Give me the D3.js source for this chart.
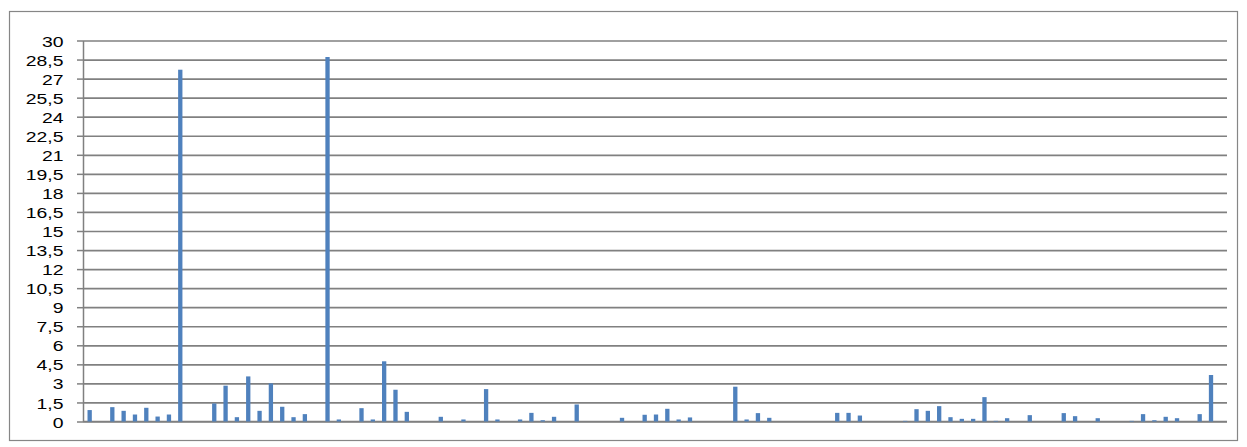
<!DOCTYPE html>
<html>
<head>
<meta charset="utf-8">
<script src="https://cdn.jsdelivr.net/npm/d3@7"></script>
<style>
  body { margin: 0; background: #fff; }
  svg { display: block; }
  .axis path, .axis line { stroke: #808080; }
  .grid line { stroke: #808080; stroke-width: 1.7; }
  .grid path { display: none; }
</style>
</head>
<body>
<div id="chart"></div>
<script>
// values for each category slot (101 slots)
const categories = d3.range(101);
const values = [
  0.9, 0, 1.13, 0.84, 0.55, 1.08, 0.39, 0.55, 27.7, 0,
  0, 1.42, 2.82, 0.34, 3.55, 0.84, 3.0, 1.16, 0.34, 0.58,
  0, 28.7, 0.16, 0, 1.05, 0.16, 4.74, 2.5, 0.76, 0,
  0, 0.37, 0, 0.16, 0, 2.55, 0.16, 0, 0.16, 0.68,
  0.1, 0.37, 0, 1.34, 0, 0, 0, 0.29, 0, 0.53,
  0.55, 1.0, 0.16, 0.32, 0, 0, 0, 2.74, 0.16, 0.66,
  0.29, 0, 0, 0, 0, 0, 0.68, 0.68, 0.47, 0,
  0, 0, 0.05, 0.97, 0.84, 1.21, 0.34, 0.21, 0.21, 1.92,
  0.05, 0.26, 0, 0.5, 0, 0, 0.66, 0.42, 0, 0.26,
  0, 0, 0.05, 0.58, 0.1, 0.37, 0.26, 0, 0.58, 3.66,
  0
];
const yTicks = [0, 1.5, 3, 4.5, 6, 7.5, 9, 10.5, 12, 13.5, 15, 16.5, 18, 19.5, 21, 22.5, 24, 25.5, 27, 28.5, 30];

const W = 1247, H = 447;
const plot = {left: 83, right: 1227, top: 40.5, bottom: 421.5};

const svg = d3.select('#chart').append('svg')
  .attr('width', W)
  .attr('height', H);

// outer frame
svg.append('rect')
  .attr('x', 9.5).attr('y', 11.5)
  .attr('width', 1228).attr('height', 429)
  .attr('fill', 'none')
  .attr('stroke', '#868686')
  .attr('stroke-width', 1.2);

const x = d3.scaleBand()
  .domain(categories)
  .range([plot.left + 1, plot.right + 1])
  .paddingInner(0.62)
  .paddingOuter(0.31);

const y = d3.scaleLinear()
  .domain([0, 30])
  .range([plot.bottom, plot.top]);

// gridlines
svg.append('g')
  .attr('class', 'grid')
  .attr('transform', `translate(${plot.left},0)`)
  .call(d3.axisLeft(y).tickValues(yTicks).tickSize(-(plot.right - plot.left)).tickFormat(''));

// y axis with ticks + labels
const yAxis = svg.append('g')
  .attr('class', 'axis')
  .attr('transform', `translate(${plot.left},0)`)
  .call(d3.axisLeft(y).tickValues(yTicks).tickSize(6).tickSizeOuter(0)
    .tickFormat(d => String(d).replace('.', ',')));

yAxis.select('.domain').attr('stroke-width', 1.5);
yAxis.selectAll('.tick line').attr('stroke-width', 1.5);
yAxis.selectAll('text')
  .attr('x', 0)
  .attr('dy', '0.36em')
  .attr('transform', 'translate(-19.5,0) scale(1.25,1)')
  .style('font-family', '"Liberation Sans", Arial, sans-serif')
  .style('font-size', '15.5px')
  .attr('fill', '#000');

// x baseline
svg.append('line')
  .attr('x1', plot.left).attr('x2', plot.right)
  .attr('y1', y(0)).attr('y2', y(0))
  .attr('stroke', '#808080')
  .attr('stroke-width', 1.7);

// bars
svg.append('g')
  .selectAll('rect')
  .data(values)
  .join('rect')
  .attr('x', (d, i) => x(categories[i]))
  .attr('width', x.bandwidth())
  .attr('y', d => y(d))
  .attr('height', d => y(0) - y(d))
  .attr('fill', '#4F81BD');
</script>
</body>
</html>
